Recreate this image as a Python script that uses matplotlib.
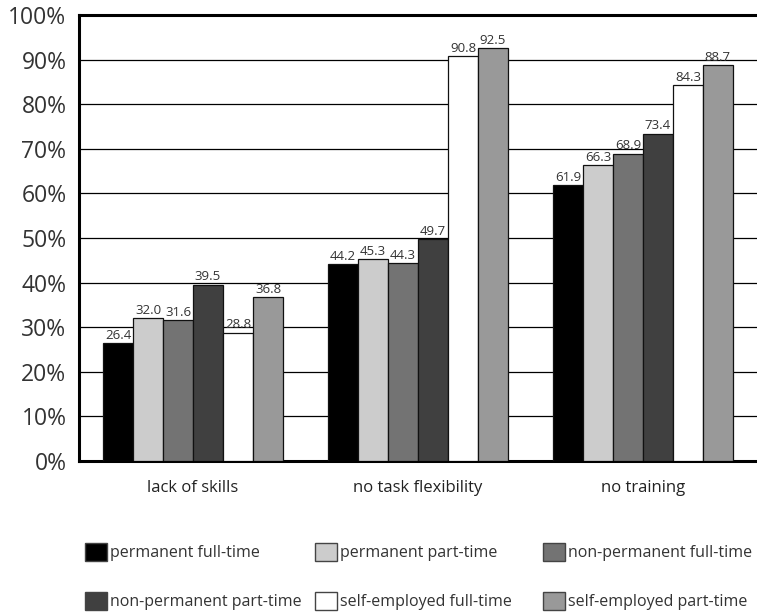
import matplotlib
matplotlib.use("Agg")
import matplotlib.pyplot as plt
import numpy as np
from matplotlib.patches import Patch

categories = ["lack of skills", "no task flexibility", "no training"]
series_names = ["permanent full-time", "permanent part-time", "non-permanent full-time",
                "non-permanent part-time", "self-employed full-time", "self-employed part-time"]
pft = [26.4, 44.2, 61.9]
ppt = [32.0, 45.3, 66.3]
npft = [31.6, 44.3, 68.9]
nppt = [39.5, 49.7, 73.4]
seft = [28.8, 90.8, 84.3]
sept = [36.8, 92.5, 88.7]
series = [pft, ppt, npft, nppt, seft, sept]
colors = ["#000000", "#cccccc", "#737373", "#404040", "#ffffff", "#999999"]
yticks = [0, 10, 20, 30, 40, 50, 60, 70, 80, 90, 100]
ytick_labels = [f"{v}%" for v in yticks]

plt.rcParams['font.family'] = ['Open Sans', 'DejaVu Sans']
fig = plt.figure(figsize=(7.57, 6.15), dpi=100)
ax = fig.add_axes([79/757, 154/615, 1 - 79/757, 446/615])

x = np.arange(len(categories))
w = 30/225
handles = []
for i, (vals, c) in enumerate(zip(series, colors)):
    pos = x + (i - 2.5) * w
    ax.bar(pos, vals, width=w, color=c, edgecolor="#111111", linewidth=0.9, zorder=3)
    handles.append(Patch(facecolor=c, edgecolor="#444444", linewidth=1.0))
    for p, v in zip(pos, vals):
        ax.text(p, v + 0.3, f"{v:.1f}", ha="center", va="bottom", fontsize=9.5,
                color="#333333", zorder=4)

ax.set_xlim(-0.507, 2.507)
ax.set_ylim(0, 100)
ax.set_yticks(yticks)
ax.set_yticklabels(ytick_labels, fontsize=16.5, color="#333333")
ax.set_xticks(x)
ax.set_xticklabels(categories, fontsize=12, color="#222222")
ax.tick_params(axis="both", length=0)
ax.tick_params(axis="y", pad=9)
ax.tick_params(axis="x", pad=14)
ax.yaxis.grid(True, color="#000000", linewidth=0.9, zorder=0)
ax.set_axisbelow(True)
for s in ["left", "bottom", "top"]:
    ax.spines[s].set_linewidth(2.2)
    ax.spines[s].set_color("#000000")
ax.spines["right"].set_visible(False)

col_x = [85, 315, 543]
for col in range(3):
    idx = [col, col + 3]
    fig.legend([handles[k] for k in idx], [series_names[k] for k in idx],
               loc="upper left", bbox_to_anchor=(col_x[col]/757, 1 - 543/615),
               frameon=False, fontsize=11.5, handlelength=1.38, handleheight=1.38,
               handletextpad=0.2, labelspacing=1.9, borderpad=0, borderaxespad=0,
               labelcolor="#333333")

fig.savefig("out.png", dpi=100)
